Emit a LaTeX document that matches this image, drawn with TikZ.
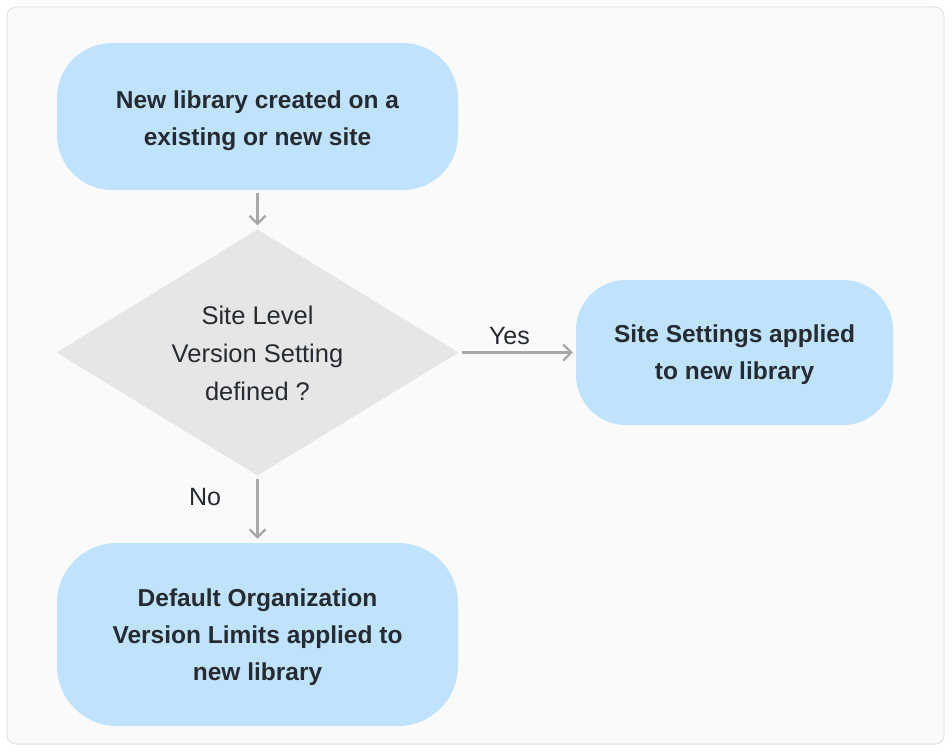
\documentclass[tikz,border=0pt]{standalone}
\usepackage{fontspec}
\setmainfont{Liberation Sans}
\usetikzlibrary{shapes.geometric,arrows.meta}
\definecolor{bgpanel}{HTML}{FAFAFA}
\definecolor{panelline}{HTML}{E3E3E3}
\definecolor{boxblue}{HTML}{BFE3FC}
\definecolor{diagray}{HTML}{E6E6E6}
\definecolor{txt}{HTML}{262B31}
\definecolor{arrowgray}{HTML}{A8A8A8}
\tikzset{
  procbox/.style={fill=boxblue, draw=none, rounded corners=55pt, align=center, text=txt, font=\fontsize{24.5}{37}\selectfont\bfseries, inner sep=0pt},
  decision/.style={diamond, fill=diagray, draw=none, inner sep=0pt, minimum width=402pt, minimum height=246pt},
  dectext/.style={align=center, text=txt, font=\fontsize{25.5}{38}\selectfont, inner sep=0pt},
  flow/.style={draw=arrowgray, line width=2.2pt, -{Straight Barb[length=8pt,width=16pt,line width=2.2pt]}},
  lbl/.style={text=txt, font=\fontsize{25}{29}\selectfont}
}
\begin{document}
\begin{tikzpicture}[x=1pt,y=-1pt]
\useasboundingbox (0,0) rectangle (952,752);
\fill[white] (0,0) rectangle (952,752);
\draw[fill=bgpanel, draw=panelline, line width=1pt, rounded corners=9pt] (7,7) rectangle (944,744);
\node[procbox, minimum width=401pt, minimum height=147pt] (start) at (257.5,116.5) {};
\node[procbox] (starttxt) at (257.5,121) {New library created on a\\existing or new site};
\node[decision] (dec) at (257.5,352.5) {};
\node[dectext] (dectxt) at (257.5,353.5) {Site Level\\Version Setting\\defined ?};
\node[procbox, rounded corners=50pt, minimum width=317pt, minimum height=145pt] (site) at (734.5,352.5) {};
\node[procbox, fill=none] (sitetxt) at (734.5,355) {Site Settings applied\\to new library};
\node[procbox, rounded corners=60pt, minimum width=401pt, minimum height=183pt] (org) at (257.5,634.5) {};
\node[procbox, fill=none] (orgtxt) at (257.5,637.5) {Default Organization\\Version Limits applied to\\new library};
\draw[flow] ([yshift=-3pt]start.south) -- ([yshift=4pt]dec.north);
\draw[flow] ([xshift=3pt]dec.east) -- ([xshift=-3pt]site.west) node[lbl, pos=0.43, above=3pt] (yes) {Yes};
\draw[flow] ([yshift=-3pt]dec.south) -- ([yshift=4pt]org.north) node[lbl, pos=0.3, left=32pt] (no) {No};
\end{tikzpicture}
\end{document}
